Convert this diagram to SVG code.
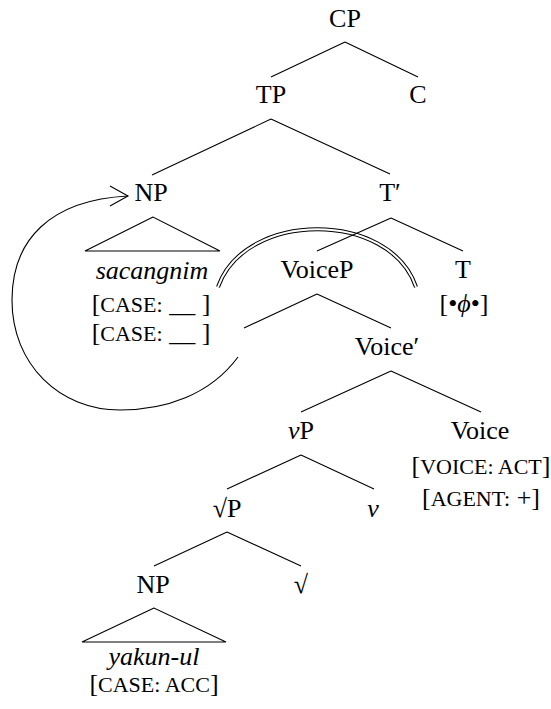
<svg xmlns="http://www.w3.org/2000/svg" width="551" height="709" viewBox="0 0 551 709" font-family="Times New Roman, Liberation Serif, Tinos, serif">
<rect width="551" height="709" fill="#fff"/>
<g id="connectors" stroke="#000" stroke-width="1.1" fill="none">
<g id="agree-arc">
<path d="M218,287 C245,210 390,210 416,287" stroke-width="4"/>
<path d="M218,287 C245,210 390,210 416,287" stroke="#fff" stroke-width="2"/>
</g>
<path d="M345,42 L271,77 M345,42 L418,77"/>
<path d="M271,119 L152,175 M271,119 L390,174"/>
<path d="M391,218 L317,251 M391,218 L463,251"/>
<path d="M317,294 L244,328 M317,294 L391,328"/>
<path d="M391,371 L301,412 M391,371 L481,412"/>
<path d="M301,455 L227,489 M301,455 L374,489"/>
<path d="M227,532 L154,566 M227,532 L301,566"/>
<g id="movement">
<path d="M238,357 C210,395 165,410 120,410 C60,410 12,365 12,300 C12,240 50,200 128,196"/>
<path d="M110,186 L128,196 L110,206"/>
</g>
</g>
<g id="CP"><text font-family="Times New Roman, Liberation Serif, Tinos, serif" font-size="26" text-anchor="middle" x="345" y="27">CP</text></g>
<g id="TP"><text font-family="Times New Roman, Liberation Serif, Tinos, serif" font-size="26" text-anchor="middle" x="271" y="103">TP</text></g>
<g id="C"><text font-family="Times New Roman, Liberation Serif, Tinos, serif" font-size="26" text-anchor="middle" x="418" y="103">C</text></g>
<g id="NP-subj">
<text font-family="Times New Roman, Liberation Serif, Tinos, serif" font-size="26" text-anchor="middle" x="151" y="201">NP</text>
<path d="M153,217 L85,251 L220,251 Z" fill="none" stroke="#000" stroke-width="1.1"/>
<text font-family="Times New Roman, Liberation Serif, Tinos, serif" font-size="26" text-anchor="middle" font-style="italic" x="152" y="279">sacangnim</text>
<text font-family="Times New Roman, Liberation Serif, Tinos, serif" font-size="26" text-anchor="middle" x="151" y="312">[<tspan font-size="22">CASE:</tspan> __ ]</text>
<text font-family="Times New Roman, Liberation Serif, Tinos, serif" font-size="26" text-anchor="middle" x="151" y="341">[<tspan font-size="22">CASE:</tspan> __ ]</text>
</g>
<g id="Tbar"><text font-family="Times New Roman, Liberation Serif, Tinos, serif" font-size="26" text-anchor="middle" x="390" y="201">T&#8242;</text></g>
<g id="VoiceP"><text font-family="Times New Roman, Liberation Serif, Tinos, serif" font-size="26" text-anchor="middle" x="317" y="278">VoiceP</text></g>
<g id="T">
<text font-family="Times New Roman, Liberation Serif, Tinos, serif" font-size="26" text-anchor="middle" x="463" y="278">T</text>
<text font-family="Times New Roman, Liberation Serif, Tinos, serif" font-size="26" text-anchor="middle" x="464" y="312">[&#8226;<tspan font-style="italic">&#981;</tspan>&#8226;]</text>
</g>
<g id="Voicebar"><text font-family="Times New Roman, Liberation Serif, Tinos, serif" font-size="26" text-anchor="middle" x="387" y="355">Voice&#8242;</text></g>
<g id="vP"><text font-family="Times New Roman, Liberation Serif, Tinos, serif" font-size="26" text-anchor="middle" x="301" y="439"><tspan font-style="italic">v</tspan>P</text></g>
<g id="Voice">
<text font-family="Times New Roman, Liberation Serif, Tinos, serif" font-size="26" text-anchor="middle" x="480" y="439">Voice</text>
<text font-family="Times New Roman, Liberation Serif, Tinos, serif" font-size="26" text-anchor="middle" x="481" y="474">[<tspan font-size="22">VOICE: ACT</tspan>]</text>
<text font-family="Times New Roman, Liberation Serif, Tinos, serif" font-size="26" text-anchor="middle" x="481" y="506">[<tspan font-size="22">AGENT:</tspan> +]</text>
</g>
<g id="rootP"><text font-family="Times New Roman, Liberation Serif, Tinos, serif" font-size="26" text-anchor="middle" x="227" y="517">&#8730;P</text></g>
<g id="v"><text font-family="Times New Roman, Liberation Serif, Tinos, serif" font-size="26" text-anchor="middle" font-style="italic" x="373" y="517">v</text></g>
<g id="NP-obj">
<text font-family="Times New Roman, Liberation Serif, Tinos, serif" font-size="26" text-anchor="middle" x="153" y="593">NP</text>
<path d="M154,608 L82,642 L226,642 Z" fill="none" stroke="#000" stroke-width="1.1"/>
<text font-family="Times New Roman, Liberation Serif, Tinos, serif" font-size="26" text-anchor="middle" font-style="italic" x="154" y="665">yakun-ul</text>
<text font-family="Times New Roman, Liberation Serif, Tinos, serif" font-size="26" text-anchor="middle" x="154" y="692">[<tspan font-size="22">CASE: ACC</tspan>]</text>
</g>
<g id="root"><text font-family="Times New Roman, Liberation Serif, Tinos, serif" font-size="26" text-anchor="middle" x="301" y="593">&#8730;</text></g>
</svg>
